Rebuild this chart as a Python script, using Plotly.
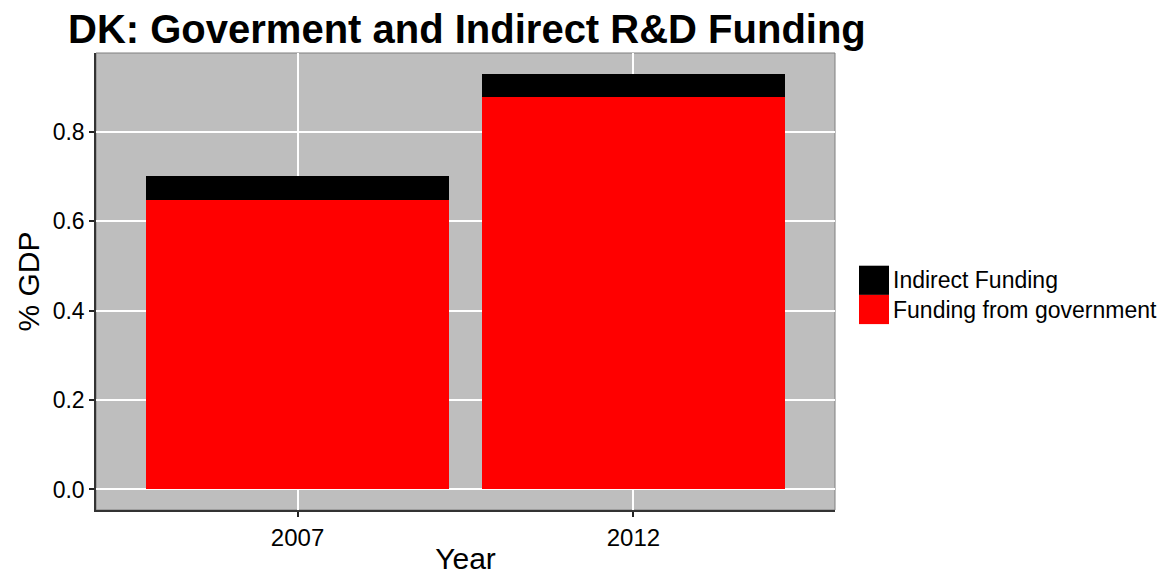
import plotly.graph_objects as go

years = ["2007", "2012"]
gov_funding = [0.648, 0.878]
indirect_funding = [0.054, 0.053]
series_names = ["Indirect Funding", "Funding from government"]
series_colors = ["#000000", "#FF0000"]
y_ticks = [0.0, 0.2, 0.4, 0.6, 0.8]
y_tick_labels = ["0.0", "0.2", "0.4", "0.6", "0.8"]

W, H = 1163, 575
ML, MR, MT, MB = 96, 328, 53, 65
PW = W - ML - MR
PH = H - MT - MB

def px_x(p):
    return (p - ML) / PW

def px_y(p):
    return (H - MB - p) / PH

fig = go.Figure()
fig.add_trace(go.Bar(x=years, y=gov_funding, name=series_names[1],
                     marker=dict(color=series_colors[1], line=dict(width=0)),
                     width=0.9, showlegend=False))
fig.add_trace(go.Bar(x=years, y=indirect_funding, name=series_names[0],
                     marker=dict(color=series_colors[0], line=dict(width=0)),
                     width=0.9, showlegend=False))

font_family = "Liberation Sans, Arial, Helvetica, sans-serif"

# custom legend (large keys like ggplot)
key_top = 265.7
key_h = 29.2
shapes = []
annotations = []
for i, (nm, col) in enumerate(zip(series_names, series_colors)):
    t = key_top + i * key_h
    b = t + key_h
    shapes.append(dict(type="rect", xref="paper", yref="paper",
                       x0=px_x(859), x1=px_x(889), y0=px_y(b), y1=px_y(t),
                       fillcolor=col, line=dict(width=0), layer="above"))
    annotations.append(dict(text=nm, xref="paper", yref="paper",
                            x=px_x(891), y=px_y((t + b) / 2),
                            xanchor="left", yanchor="middle", showarrow=False,
                            font=dict(size=23, color="black", family=font_family)))

# panel border
shapes.append(dict(type="rect", xref="paper", yref="paper", x0=0, x1=1, y0=0, y1=1,
                   line=dict(color="#7f7f7f", width=1), fillcolor="rgba(0,0,0,0)",
                   layer="below"))

fig.update_layout(
    width=W, height=H,
    margin=dict(l=ML, r=MR, t=MT, b=MB, pad=0, autoexpand=False),
    barmode="stack",
    paper_bgcolor="white",
    plot_bgcolor="#BEBEBE",
    font=dict(family=font_family, color="black"),
    title=dict(text="<b>DK: Goverment and Indirect R&D Funding</b>",
               xref="container", yref="container",
               x=68 / W, xanchor="left", y=1 - 29 / H, yanchor="middle",
               font=dict(size=40, color="black", family=font_family)),
    xaxis=dict(
        type="category", range=[-0.6, 1.6], automargin=False,
        showgrid=True, gridcolor="white", gridwidth=1.5,
        ticks="outside", ticklen=5, tickwidth=2, tickcolor="#222",
        showline=True, linecolor="#333", linewidth=1.5,
        tickfont=dict(size=24, color="black"),
        title=dict(text="Year", font=dict(size=30, color="black"), standoff=8),
        zeroline=False,
    ),
    yaxis=dict(
        range=[-0.046, 0.977], automargin=False,
        tickvals=y_ticks, ticktext=y_tick_labels,
        showgrid=True, gridcolor="white", gridwidth=1.5,
        ticks="outside", ticklen=5, tickwidth=2, tickcolor="#222",
        showline=True, linecolor="#333", linewidth=1.5,
        tickfont=dict(size=23, color="black"),
        title=dict(text="% GDP", font=dict(size=30, color="black"), standoff=4),
        zeroline=False,
    ),
    shapes=shapes,
    annotations=annotations,
    showlegend=False,
    bargap=0,
)

fig.write_html("out.html", config={"displayModeBar": False},
               post_script="document.body.style.margin='0';document.body.style.padding='0';")
